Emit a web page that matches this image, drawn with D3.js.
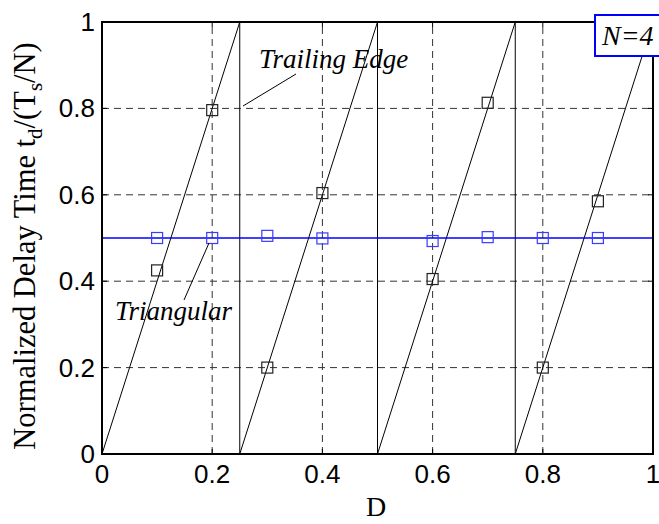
<!DOCTYPE html>
<html>
<head>
<meta charset="utf-8">
<script src="https://cdn.jsdelivr.net/npm/d3@7"></script>
<style>
  html, body { margin: 0; padding: 0; background: #fff; }
  svg { display: block; }
</style>
</head>
<body>
<svg id="chart" width="659" height="524"></svg>
<script>
// Duty-cycle values where the delay time was measured
const dutyD = [0.1, 0.2, 0.3, 0.4, 0.6, 0.7, 0.8, 0.9];
// Measured normalized delay, trailing-edge modulation
const trailingMeasured = [0.425, 0.796, 0.2, 0.604, 0.405, 0.813, 0.2, 0.585];
// Measured normalized delay, triangular modulation
const triangularMeasured = [0.5, 0.5, 0.505, 0.499, 0.493, 0.502, 0.5, 0.5];
// Theoretical trailing-edge sawtooth (N = 4)
const sawD = [0, 0.25, 0.25, 0.5, 0.5, 0.75, 0.75, 1];
const sawT = [0, 1, 0, 1, 0, 1, 0, 1];
// Theoretical triangular delay
const triD = [0, 1];
const triT = [0.5, 0.5];
// Tick values and labels
const xTicks = [0, 0.2, 0.4, 0.6, 0.8, 1];
const xTickLabels = ["0", "0.2", "0.4", "0.6", "0.8", "1"];
const yTicks = [0, 0.2, 0.4, 0.6, 0.8, 1];
const yTickLabels = ["0", "0.2", "0.4", "0.6", "0.8", "1"];

const svg = d3.select("#chart");
const plotLeft = 102, plotRight = 653, plotTop = 22, plotBottom = 454;

const x = d3.scaleLinear().domain([0, 1]).range([plotLeft, plotRight]);
const y = d3.scaleLinear().domain([0, 1]).range([plotBottom, plotTop]);

const tickFont = "'Liberation Sans', Arial, Helvetica, sans-serif";
const serif = "'Liberation Serif', 'Times New Roman', Times, serif";

// Dashed grid
const grid = svg.append("g");
xTicks.slice(1, -1).forEach(v => {
  grid.append("line")
    .attr("x1", x(v)).attr("x2", x(v)).attr("y1", y(0)).attr("y2", y(1))
    .attr("stroke", "#333").attr("stroke-width", 1).attr("stroke-dasharray", "7,5");
});
yTicks.slice(1, -1).forEach(v => {
  grid.append("line")
    .attr("x1", x(0)).attr("x2", x(1)).attr("y1", y(v)).attr("y2", y(v))
    .attr("stroke", "#333").attr("stroke-width", 1).attr("stroke-dasharray", "7,5");
});

// Inward ticks on all four sides
const tickLen = 5;
xTicks.forEach(v => {
  svg.append("line").attr("x1", x(v)).attr("x2", x(v)).attr("y1", y(0)).attr("y2", y(0) - tickLen).attr("stroke", "#000");
  svg.append("line").attr("x1", x(v)).attr("x2", x(v)).attr("y1", y(1)).attr("y2", y(1) + tickLen).attr("stroke", "#000");
});
yTicks.forEach(v => {
  svg.append("line").attr("x1", x(0)).attr("x2", x(0) + tickLen).attr("y1", y(v)).attr("y2", y(v)).attr("stroke", "#000");
  svg.append("line").attr("x1", x(1)).attr("x2", x(1) - tickLen).attr("y1", y(v)).attr("y2", y(v)).attr("stroke", "#000");
});

// Theoretical curves
const line = d3.line().x(d => x(d[0])).y(d => y(d[1]));
svg.append("path")
  .datum(sawD.map((d, i) => [d, sawT[i]]))
  .attr("d", line).attr("fill", "none").attr("stroke", "#000").attr("stroke-width", 1);
svg.append("path")
  .datum(triD.map((d, i) => [d, triT[i]]))
  .attr("d", line).attr("fill", "none").attr("stroke", "#0000ff").attr("stroke-width", 1.5);

// Measured points (square markers)
const sq = 11;
svg.append("g").selectAll("rect").data(dutyD.map((d, i) => [d, triangularMeasured[i]]))
  .join("rect")
  .attr("x", d => x(d[0]) - sq / 2).attr("y", d => y(d[1]) - sq / 2)
  .attr("width", sq).attr("height", sq)
  .attr("fill", "none").attr("stroke", "#3b3bff").attr("stroke-width", 1.2);
svg.append("g").selectAll("rect").data(dutyD.map((d, i) => [d, trailingMeasured[i]]))
  .join("rect")
  .attr("x", d => x(d[0]) - sq / 2).attr("y", d => y(d[1]) - sq / 2)
  .attr("width", sq).attr("height", sq)
  .attr("fill", "none").attr("stroke", "#222").attr("stroke-width", 1.2);

// Axes frame
svg.append("rect")
  .attr("x", plotLeft).attr("y", plotTop).attr("width", plotRight - plotLeft).attr("height", plotBottom - plotTop)
  .attr("fill", "none").attr("stroke", "#000").attr("stroke-width", 2);

// Tick labels
svg.append("g").selectAll("text").data(xTicks)
  .join("text")
  .attr("x", d => x(d)).attr("y", 483)
  .attr("text-anchor", "middle")
  .attr("font-family", tickFont).attr("font-size", 26)
  .text((d, i) => xTickLabels[i]);
svg.append("g").selectAll("text").data(yTicks)
  .join("text")
  .attr("x", 95).attr("y", d => y(d) + 9)
  .attr("text-anchor", "end")
  .attr("font-family", tickFont).attr("font-size", 26)
  .text((d, i) => yTickLabels[i]);

// Axis titles
svg.append("text")
  .attr("x", 376).attr("y", 516)
  .attr("text-anchor", "middle")
  .attr("font-family", serif).attr("font-size", 28)
  .text("D");

const yl = svg.append("text")
  .attr("transform", "translate(35,246) rotate(-90)")
  .attr("text-anchor", "middle")
  .attr("font-family", serif).attr("font-size", 30.5);
yl.append("tspan").text("Normalized Delay Time t");
yl.append("tspan").attr("font-size", 21).attr("dy", 7).text("d");
yl.append("tspan").attr("dy", -7).text("/(T");
yl.append("tspan").attr("font-size", 21).attr("dy", 7).text("s");
yl.append("tspan").attr("dy", -7).text("/N)");

// Annotations
svg.append("line")
  .attr("x1", 243).attr("y1", 106).attr("x2", 296).attr("y2", 74)
  .attr("stroke", "#000").attr("stroke-width", 1);
svg.append("text")
  .attr("x", 259).attr("y", 68)
  .attr("font-family", serif).attr("font-style", "italic").attr("font-size", 27)
  .text("Trailing Edge");

svg.append("line")
  .attr("x1", 209).attr("y1", 243).attr("x2", 184).attr("y2", 300)
  .attr("stroke", "#000").attr("stroke-width", 1);
svg.append("text")
  .attr("x", 115).attr("y", 320)
  .attr("font-family", serif).attr("font-style", "italic").attr("font-size", 27)
  .text("Triangular");

// N=4 label box
svg.append("rect")
  .attr("x", 595).attr("y", 15).attr("width", 66).attr("height", 41)
  .attr("fill", "#fff").attr("stroke", "#0000ff").attr("stroke-width", 2);
svg.append("text")
  .attr("x", 602).attr("y", 45)
  .attr("font-family", serif).attr("font-style", "italic").attr("font-size", 28)
  .text("N=4");
</script>
</body>
</html>
